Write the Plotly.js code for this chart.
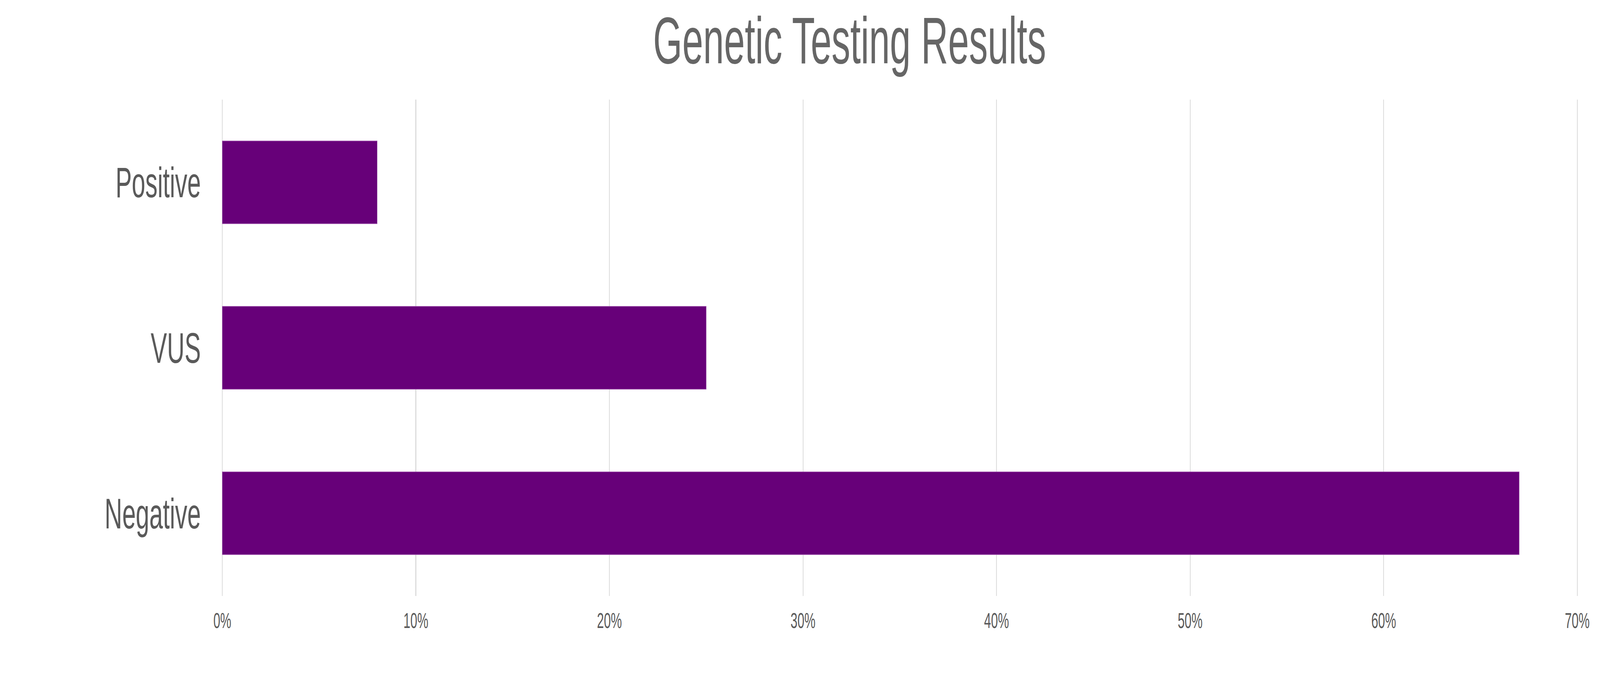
<!DOCTYPE html>
<html>
<head>
<meta charset="utf-8">
<script src="https://cdn.plot.ly/plotly-3.0.1.min.js"></script>
<style>
  html, body { margin: 0; padding: 0; background: #fff; overflow: hidden; }
  #chart { width: 7217px; height: 1777px; transform-origin: 0 0; }
</style>
</head>
<body>
<div id="chart"></div>
<script>
// genetic testing results, share of patients
var results = ['Negative', 'VUS', 'Positive'];
var shares = [0.67, 0.25, 0.08];
var xTicks = [0, 0.1, 0.2, 0.3, 0.4, 0.5, 0.6, 0.7];

var W = 7217, H = 1777;

// the window may be narrower than the chart; squeeze it to fit
var chartDiv = document.getElementById('chart');
var sx = Math.min(1, window.innerWidth / W);
var sy = Math.min(1, window.innerHeight / H);
chartDiv.style.transform = 'scale(' + sx + ',' + sy + ')';

var data = [{
  type: 'bar',
  orientation: 'h',
  x: shares,
  y: results,
  width: 0.5,
  marker: {
    color: '#670079',
    line: { color: '#9a4aa8', width: 1.5 }
  },
  hoverinfo: 'none'
}];

var layout = {
  width: W,
  height: H,
  paper_bgcolor: '#ffffff',
  plot_bgcolor: '#ffffff',
  margin: { l: 994, r: 94, t: 255, b: 251 },
  showlegend: false,
  font: { family: 'Liberation Sans, Arial, sans-serif', color: '#5a5a5a' },
  title: {
    text: 'Genetic Testing Results',
    font: { family: 'Liberation Sans, Arial, sans-serif', size: 169, color: '#666666' },
    x: 0.531,
    xanchor: 'center',
    y: 0.942,
    yanchor: 'middle'
  },
  xaxis: {
    // a hair of padding so the 0% and 70% grid lines are drawn
    range: [-0.001, 0.701],
    tickvals: xTicks,
    tickformat: '.0%',
    showgrid: true,
    gridcolor: '#dcdcdc',
    gridwidth: 4,
    zeroline: false,
    showline: false,
    ticks: '',
    ticklabelstandoff: 25,
    tickfont: { size: 56, color: '#5a5a5a' }
  },
  yaxis: {
    type: 'category',
    categoryorder: 'array',
    categoryarray: results,
    range: [-0.5, 2.5],
    showgrid: false,
    zeroline: false,
    showline: false,
    ticks: '',
    ticklabelstandoff: 87,
    tickfont: { size: 110, color: '#5a5a5a' }
  }
};

Plotly.newPlot('chart', data, layout, { staticPlot: true });
</script>
</body>
</html>
